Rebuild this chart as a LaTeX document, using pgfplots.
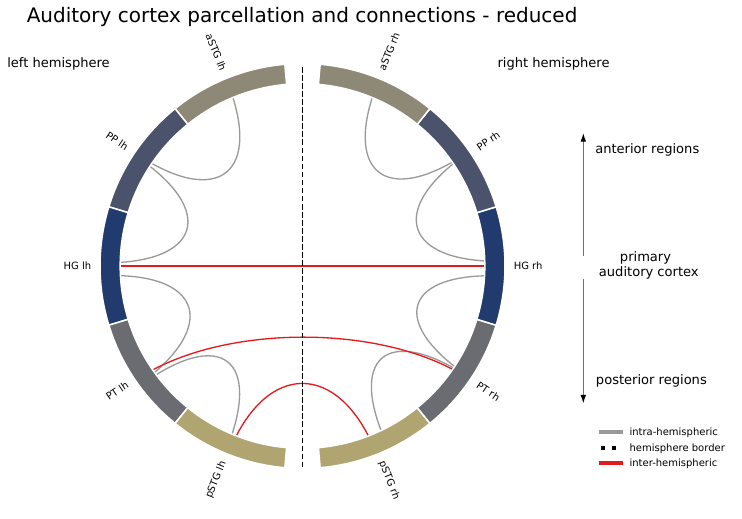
\documentclass[border=0pt]{standalone}
\usepackage{pgfplots}
\pgfplotsset{compat=1.18}
\usepackage{fontspec}
\setmainfont{DejaVu Sans}
\usetikzlibrary{arrows.meta}

\definecolor{cASTG}{RGB}{142,137,118}
\definecolor{cPP}{RGB}{74,82,108}
\definecolor{cHG}{RGB}{33,59,110}
\definecolor{cPT}{RGB}{106,108,113}
\definecolor{cPSTG}{RGB}{176,165,112}
\definecolor{cIntra}{RGB}{153,153,153}
\definecolor{cInter}{RGB}{228,26,28}

% ring segment: start angle, end angle, colour
\newcommand{\seg}[3]{\fill[#3, draw=white, line width=1.1pt] (#1:202.5) arc[start angle=#1, end angle=#2, radius=202.5] -- (#2:182.3) arc[start angle=#2, end angle=#1, radius=182.3] -- cycle;}
% connection: start angle, end angle, colour
\newcommand{\conn}[3]{\draw[#3, line width=0.95pt] (#1:202) .. controls (#1:101) and (#2:101) .. (#2:202);}
% labels
\newcommand{\lablft}[2]{\node[anchor=east, inner sep=0pt, rotate=#1-180, font=\fontsize{7.2}{8}\selectfont] at (#1:211) {#2};}
\newcommand{\labrgt}[2]{\node[anchor=west, inner sep=0pt, rotate=#1, font=\fontsize{7.2}{8}\selectfont] at (#1:211) {#2};}

\begin{document}
\begin{tikzpicture}
\begin{axis}[
  scale only axis, width=534.24pt, height=372.96pt,
  xmin=-302.5, xmax=439.5, ymin=-252, ymax=266,
  hide axis, clip=false]

% inter-hemispheric straight connection (HG lh -- HG rh)
\addplot[cInter, line width=0.95pt] coordinates {(-202,0) (202,0)};

\begin{scope}[shift={(axis cs:0,0)}, x=0.72pt, y=0.72pt]
  % intra-hemispheric, left
  \conn{112.2}{146.0}{cIntra}
  \conn{146.6}{179.1}{cIntra}
  \conn{182.8}{216.0}{cIntra}
  \conn{216.4}{247.5}{cIntra}
  % intra-hemispheric, right
  \conn{67.75}{34.5}{cIntra}
  \conn{34.4}{1.35}{cIntra}
  \conn{-2.85}{-33.7}{cIntra}
  \conn{-33.8}{-64.7}{cIntra}
  % inter-hemispheric
  \conn{214.4}{325.8}{cInter}
  \conn{248.4}{291.5}{cInter}
  % ring
  \seg{95}{129}{cASTG}
  \seg{129}{163}{cPP}
  \seg{163}{197}{cHG}
  \seg{197}{231}{cPT}
  \seg{231}{265}{cPSTG}
  \seg{275}{309}{cPSTG}
  \seg{309}{343}{cPT}
  \seg{343}{377}{cHG}
  \seg{17}{51}{cPP}
  \seg{51}{85}{cASTG}
  % node labels
  \lablft{112}{aSTG lh}
  \lablft{146}{PP lh}
  \lablft{180}{HG lh}
  \lablft{214}{PT lh}
  \lablft{248}{pSTG lh}
  \labrgt{68}{aSTG rh}
  \labrgt{34}{PP rh}
  \labrgt{0}{HG rh}
  \labrgt{-34}{PT rh}
  \labrgt{-68}{pSTG rh}
\end{scope}

% hemisphere border
\addplot[black, line width=1.1pt, dash pattern=on 4pt off 1.8pt] coordinates {(0,199) (0,-201)};

% title and annotations
\node[anchor=base west, inner sep=0pt, font=\fontsize{14.4}{16}\selectfont] at (axis cs:-276,243) {Auditory cortex parcellation and connections - reduced};
\node[anchor=base west, inner sep=0pt, font=\fontsize{9.4}{11}\selectfont] at (axis cs:-295.5,198) {left hemisphere};
\node[anchor=base west, inner sep=0pt, font=\fontsize{9.4}{11}\selectfont] at (axis cs:194.8,198) {right hemisphere};
\node[anchor=base west, inner sep=0pt, font=\fontsize{9.4}{11}\selectfont] at (axis cs:292.5,112.7) {anterior regions};
\node[anchor=base, inner sep=0pt, font=\fontsize{9.4}{11}\selectfont] at (axis cs:343,4.3) {primary};
\node[anchor=base, inner sep=0pt, font=\fontsize{9.4}{11}\selectfont] at (axis cs:346.3,-10.7) {auditory cortex};
\node[anchor=base west, inner sep=0pt, font=\fontsize{9.4}{11}\selectfont] at (axis cs:293.2,-118) {posterior regions};

% arrows
\draw[black!55, line width=0.6pt, -{Latex[length=6pt,width=4pt,black]}] (axis cs:280.8,10) -- (axis cs:280.8,132.7);
\draw[black!55, line width=0.6pt, -{Latex[length=6pt,width=4pt,black]}] (axis cs:280.8,-13.3) -- (axis cs:280.8,-137.3);

% legend
\draw[cIntra, line width=2.9pt] (axis cs:296.5,-166.3) -- (axis cs:320.8,-166.3);
\fill[black] (axis cs:298.5,-184.3) rectangle (axis cs:302.5,-180.3);
\fill[black] (axis cs:309.2,-184.3) rectangle (axis cs:313.2,-180.3);
\draw[cInter, line width=2.9pt] (axis cs:296.5,-197.3) -- (axis cs:320.8,-197.3);
\node[anchor=west, inner sep=0pt, font=\fontsize{7.2}{8}\selectfont] at (axis cs:326.8,-166.3) {intra-hemispheric};
\node[anchor=west, inner sep=0pt, font=\fontsize{7.2}{8}\selectfont] at (axis cs:326.8,-182.3) {hemisphere border};
\node[anchor=west, inner sep=0pt, font=\fontsize{7.2}{8}\selectfont] at (axis cs:326.8,-197.3) {inter-hemispheric};
\end{axis}
\pgfresetboundingbox
\path (current axis.south west) rectangle (current axis.north east);
\end{tikzpicture}
\end{document}
